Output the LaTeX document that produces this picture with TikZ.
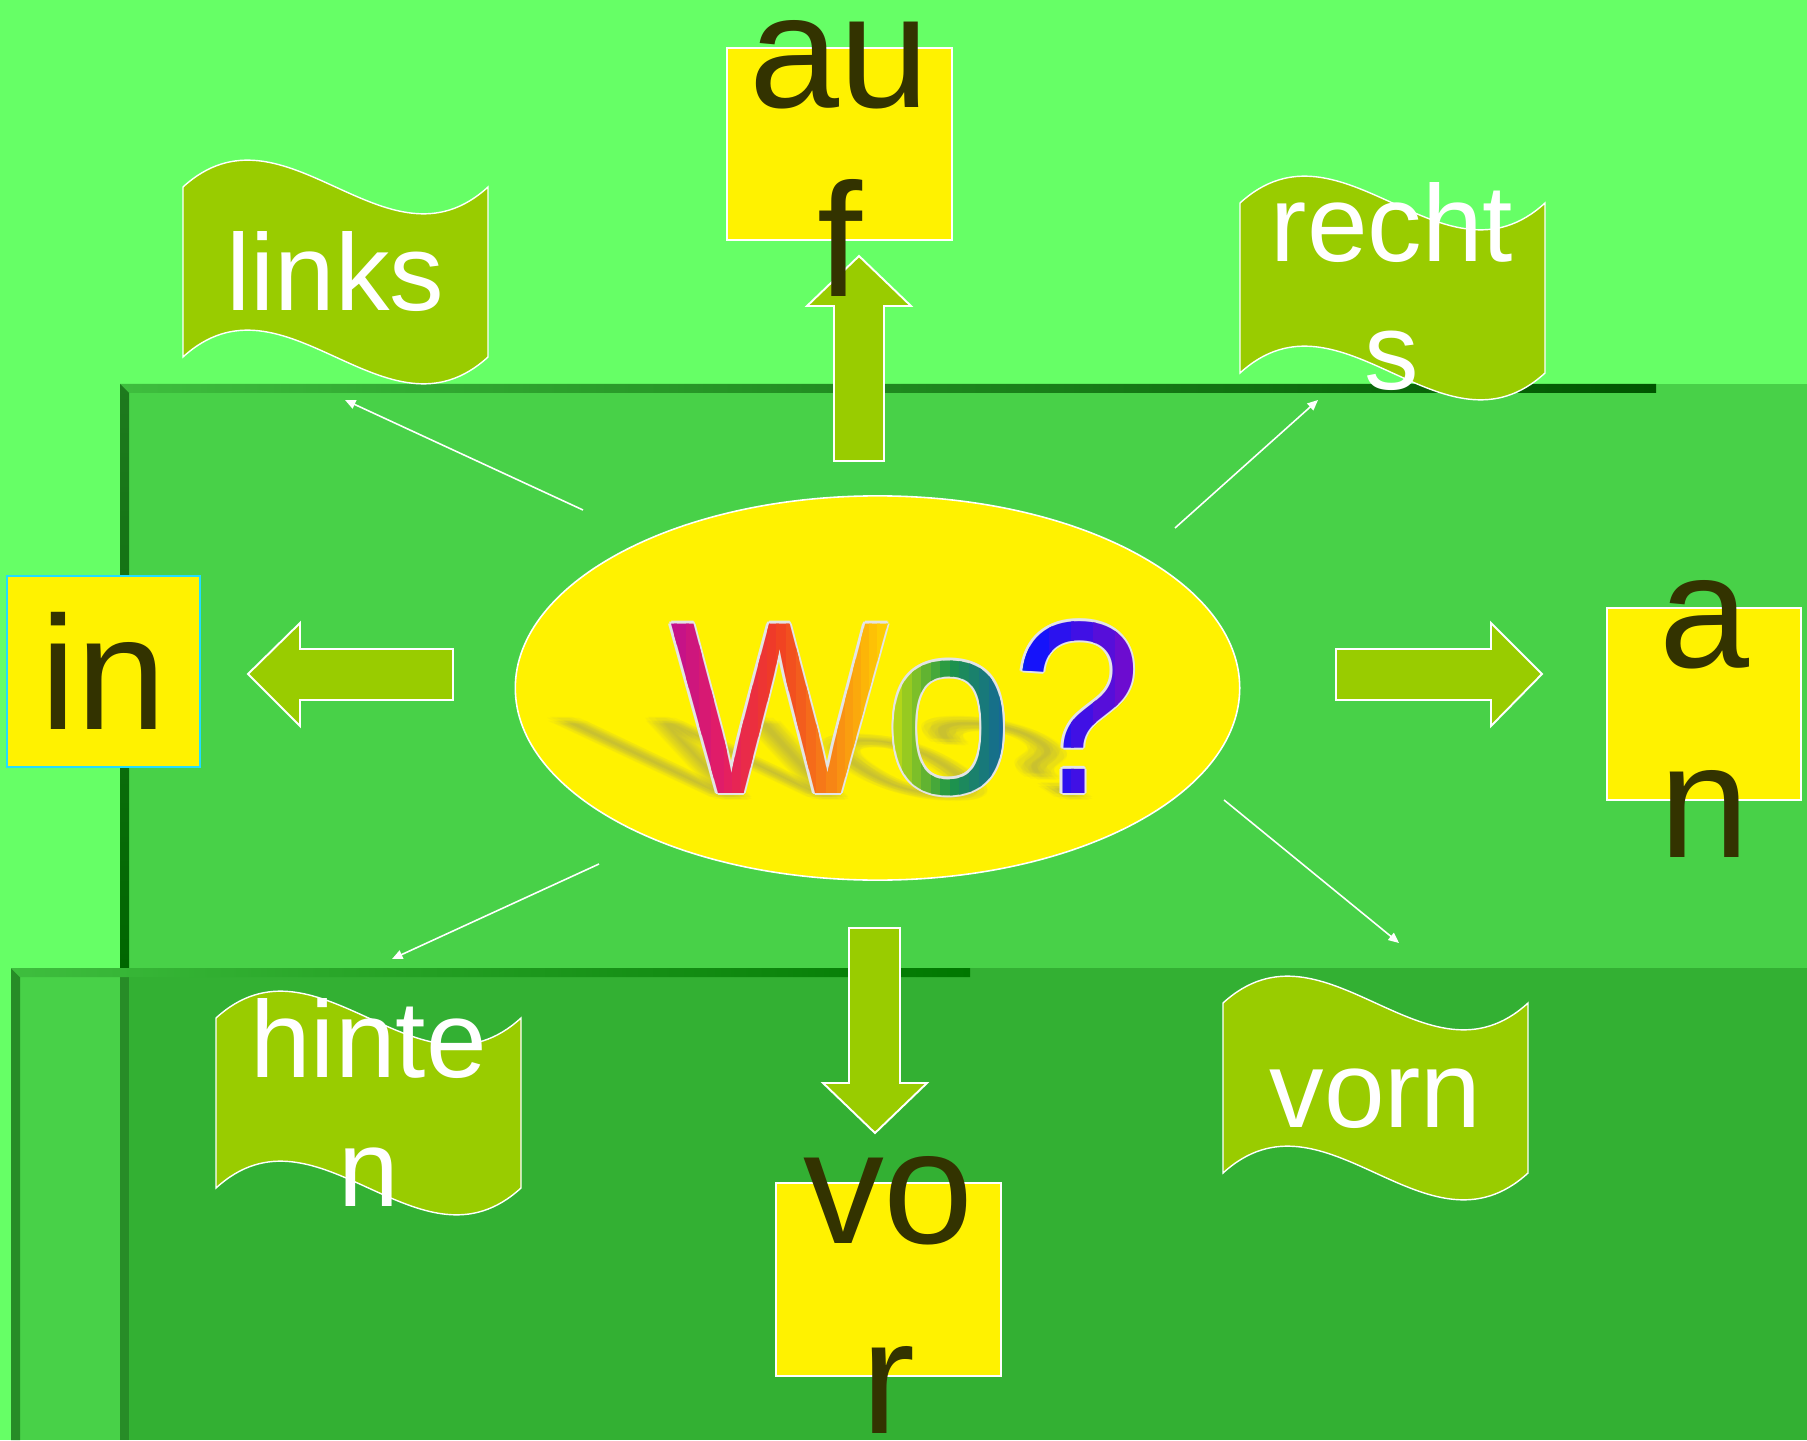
\documentclass[tikz,border=0pt]{standalone}
\usepackage{fontspec}
\setmainfont{Liberation Sans}
\usetikzlibrary{arrows.meta,shapes.geometric}

\definecolor{bglight}{HTML}{66FF66}
\definecolor{panelmid}{HTML}{48D148}
\definecolor{panellow}{HTML}{33B033}
\definecolor{rimlight}{HTML}{3EBE3E}
\definecolor{rimdark}{HTML}{005500}
\definecolor{rimleft}{HTML}{1E7A1E}
\definecolor{rimlow}{HTML}{278C27}
\definecolor{olivefill}{HTML}{99CC00}
\definecolor{wordink}{HTML}{333300}
\definecolor{cyanline}{HTML}{22DDFF}
\definecolor{woline}{HTML}{E4E4E4}
\definecolor{woA}{HTML}{B00AA0}
\definecolor{woB}{HTML}{E41E64}
\definecolor{woC}{HTML}{F03C23}
\definecolor{woD}{HTML}{F88C14}
\definecolor{woE}{HTML}{FFD200}
\definecolor{woF}{HTML}{C0DC14}
\definecolor{woG}{HTML}{1E9646}
\definecolor{woH}{HTML}{1464A0}
\definecolor{woI}{HTML}{0A14FF}
\definecolor{woJ}{HTML}{8C0AC0}

\newcommand{\wofont}{\fontsize{70}{70}\selectfont}

\tikzset{
  wordbox/.style={draw=white, line width=0.6pt, fill=yellow, inner sep=0pt, outer sep=0pt},
  wordtext/.style={text=wordink, font=\fontsize{46}{54}\selectfont, align=center, inner sep=0pt, anchor=base},
  flagtext/.style={text=white, font=\fontsize{31}{36.5}\selectfont, align=center, inner sep=0pt, anchor=base},
  flagshape/.style={fill=olivefill, draw=white, line width=0.4pt},
  blockarrow/.style={fill=olivefill, draw=white, line width=0.55pt, line join=miter},
  thinarrow/.style={draw=white, line width=0.45pt, -{Triangle[length=3pt,width=2.6pt]}},
  wotext/.style={font=\wofont, xscale=0.94, inner sep=0pt},
}

% wave banner, left top corner at (#1,#2)
\newcommand{\flagpath}[2]{%
  \draw[flagshape, shift={(#1,#2)}] (0,0) .. controls (101.7,-93) and (203.3,93) .. (305,0)
    -- (305,170) .. controls (203.3,263) and (101.7,77) .. (0,170) -- cycle;}

% one colour step of the Wo? lettering, from x=#1 to x=#2, colour #3 to #4
\newcommand{\woband}[4]{%
  \foreach \s in {0,...,5}{%
    \pgfmathsetmacro{\xl}{#1+(#2-#1)*\s/6-1}%
    \pgfmathsetmacro{\xr}{#1+(#2-#1)*(\s+1)/6+1}%
    \pgfmathsetmacro{\p}{100*(\s+0.5)/6}%
    \begin{scope}
      \clip (\xl,590) rectangle (\xr,830);
      \node[wotext, text=#4!\p!#3] (woband-#1-\s) at (906,708.5) {Wo?};
    \end{scope}}}

\begin{document}
\begin{tikzpicture}[x=0.01cm, y=-0.01cm]
  \useasboundingbox (0,0) rectangle (1807,1440);

  % background panels
  \fill[bglight] (0,0) rectangle (1807,1440);
  \fill[panelmid] (120,384) rectangle (1807,968);
  \shade[left color=rimlight, right color=rimdark] (120,384) -- (1656,384) -- (1656,393) -- (129,393) -- cycle;
  \shade[top color=rimleft, bottom color=rimdark!90!green] (120,384) -- (129,393) -- (129,968) -- (120,968) -- cycle;
  \fill[panellow] (11,968) rectangle (1807,1440);
  \fill[panelmid] (20,977) rectangle (120,1440);
  \fill[rimlow] (120,977) rectangle (129,1440);
  \fill[rimlow] (11,968) -- (20,977) -- (20,1440) -- (11,1440) -- cycle;
  \shade[left color=rimlight, right color=rimdark!80!green] (11,968) -- (970,968) -- (970,977) -- (20,977) -- cycle;

  % banners
  \flagpath{183}{187}
  \flagpath{1240}{203}
  \flagpath{216}{1018}
  \flagpath{1223}{1003}

  % block arrows
  \draw[blockarrow] (834,461) -- (834,306) -- (807,306) -- (859,256) -- (911,306) -- (884,306) -- (884,461) -- cycle;
  \draw[blockarrow] (849,928) -- (900,928) -- (900,1083) -- (927,1083) -- (875,1133) -- (823,1083) -- (849,1083) -- cycle;
  \draw[blockarrow] (453,649) -- (300,649) -- (300,623) -- (248,674) -- (300,726) -- (300,700) -- (453,700) -- cycle;
  \draw[blockarrow] (1336,649) -- (1491,649) -- (1491,623) -- (1542,674) -- (1491,726) -- (1491,700) -- (1336,700) -- cycle;

  % centre
  \node[ellipse, fill=yellow, draw=white, line width=0.45pt, minimum width=7.24cm, minimum height=3.84cm, inner sep=0pt] (wo) at (877.5,688) {};
  \begin{scope}[shift={(906,797)}, cm={1,0,-0.68,0.45,(0,0)}]
    \foreach \dx/\dy [count=\k] in {-8/0,8/0,0/-8,0/8,-5/-5,5/5,-5/5,5/-5,0/0}
      \node[wotext, transform shape, anchor=base, text=gray, opacity=0.055] (woshadow\k) at (\dx,\dy) {Wo?};
  \end{scope}
  \begin{scope}[shift={(906,708.5)}]
    \foreach \ang [count=\k] in {0,45,...,315}
      \node[wotext, text=woline] (worim\k) at (\ang:2.4) {Wo?};
  \end{scope}
  \woband{650}{725}{woA}{woB}
  \woband{725}{777}{woB}{woC}
  \woband{777}{838}{woC}{woD}
  \woband{838}{887}{woD}{woE}
  \woband{887}{894}{woE}{woF}
  \woband{894}{951}{woF}{woG}
  \woband{951}{1010}{woG}{woH}
  \woband{1010}{1028}{woH}{woI}
  \woband{1028}{1160}{woI}{woJ}

  % word boxes
  \node[wordbox, minimum width=2.25cm, minimum height=1.92cm] (aufbox) at (839.5,144) {};
  \node[wordbox, draw=cyanline, minimum width=1.93cm, minimum height=1.91cm] (inbox) at (103.5,671.5) {};
  \node[wordbox, minimum width=1.94cm, minimum height=1.92cm] (anbox) at (1704,704) {};
  \node[wordbox, minimum width=2.25cm, minimum height=1.93cm] (vorbox) at (888.5,1279.5) {};

  \node[wordtext] (auf) at (839.5,297) {au\\f};
  \node[wordtext] (in) at (103.5,729) {in};
  \node[wordtext] (an) at (1704,857) {a\\n};
  \node[wordtext] (vor) at (888.5,1433) {vo\\r};

  \node[flagtext] (links) at (335.5,311) {links};
  \node[flagtext] (rechts) at (1392,390) {recht\\s};
  \node[flagtext] (hinten) at (368.5,1206) {hinte\\n};
  \node[flagtext] (vorn) at (1375.5,1127) {vorn};

  % thin pointers
  \coordinate (links-from) at (583,510);
  \coordinate (links-to) at (345,400);
  \coordinate (rechts-from) at (1175,528);
  \coordinate (rechts-to) at (1318,400);
  \coordinate (hinten-from) at (599,864);
  \coordinate (hinten-to) at (392,959);
  \coordinate (vorn-from) at (1224,800);
  \coordinate (vorn-to) at (1399,943);
  \draw[thinarrow] (links-from) -- (links-to);
  \draw[thinarrow] (rechts-from) -- (rechts-to);
  \draw[thinarrow] (hinten-from) -- (hinten-to);
  \draw[thinarrow] (vorn-from) -- (vorn-to);
\end{tikzpicture}
\end{document}
